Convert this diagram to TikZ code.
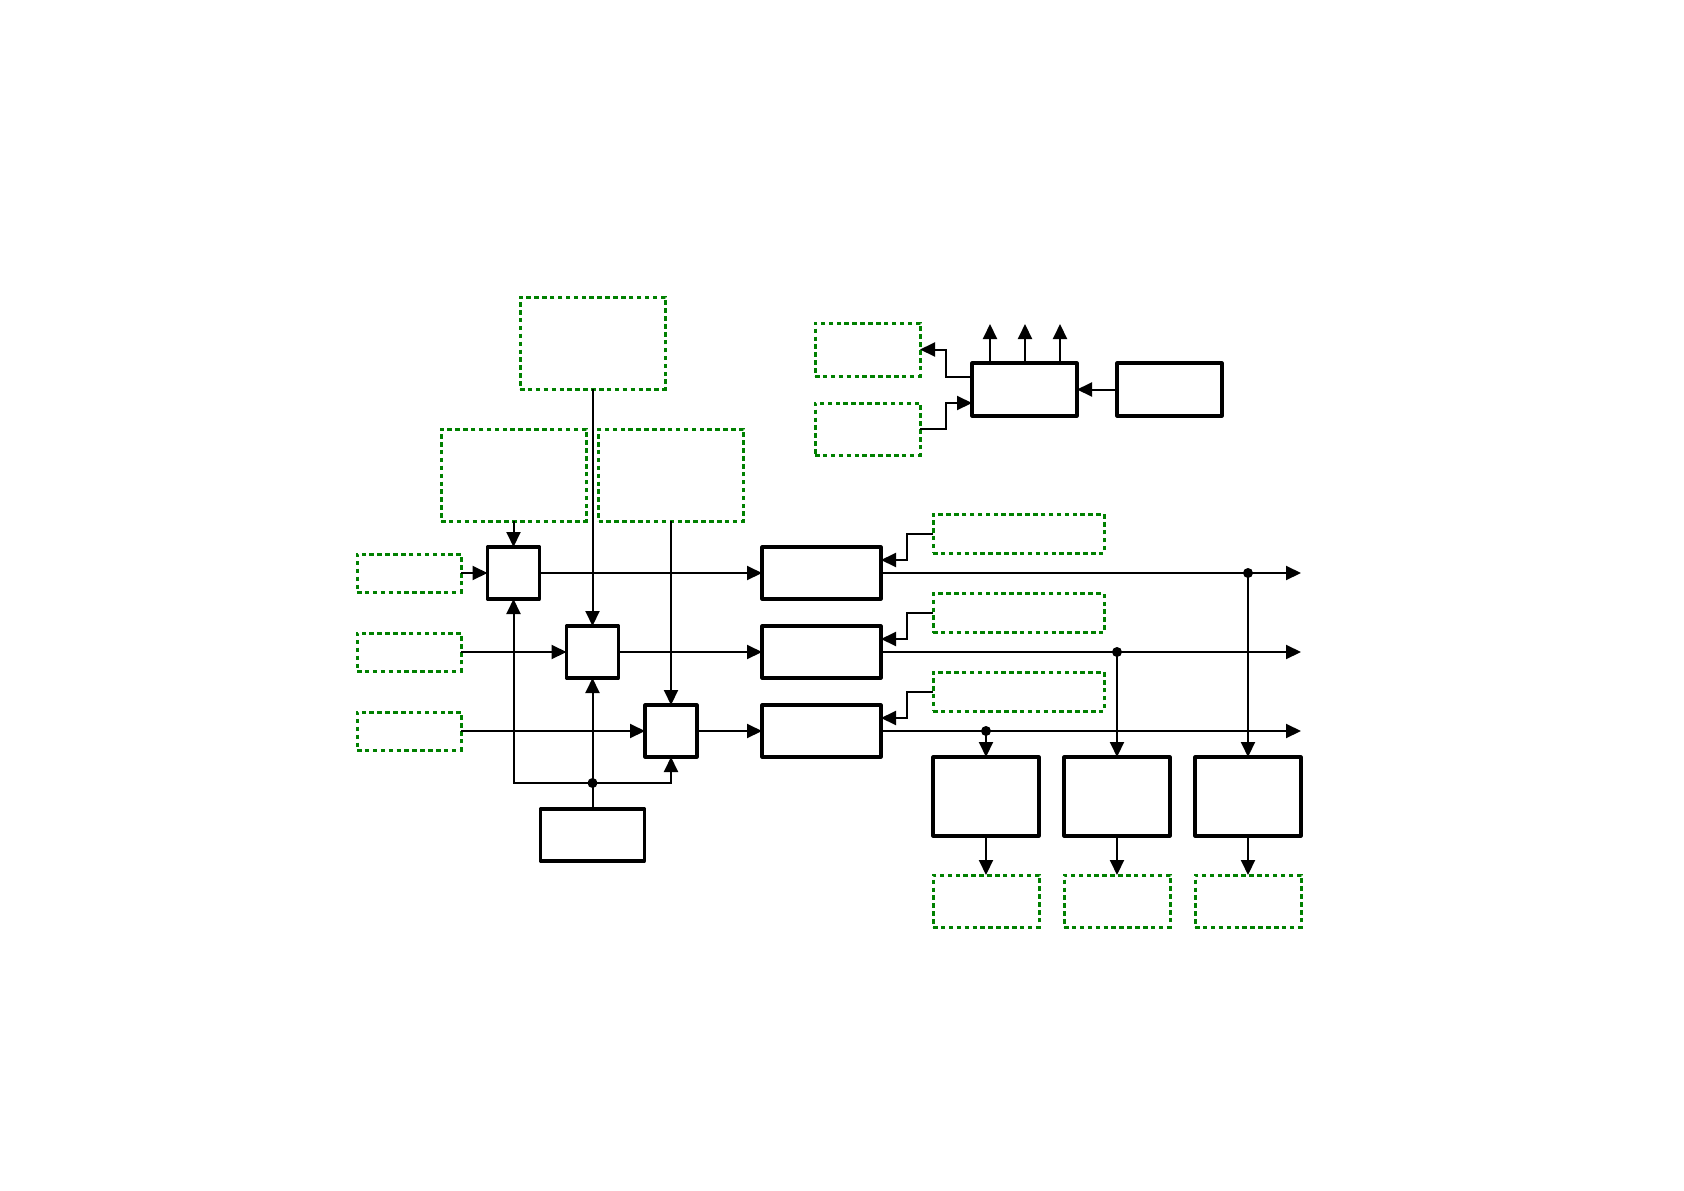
\documentclass[tikz,border=0pt]{standalone}
\usetikzlibrary{arrows.meta}
\definecolor{dgreen}{RGB}{0,128,0}
\begin{document}
\begin{tikzpicture}[x=1pt,y=-1pt,
  solidbox/.style={draw=black,line width=3.1pt,line join=round,inner sep=0pt,outer sep=0pt,fill=white},
  greenbox/.style={draw=dgreen,line width=3pt,dash pattern=on 4.5pt off 3.4pt,inner sep=0pt,outer sep=0pt},
  conn/.style={draw=black,line width=2pt},
  arr/.style={conn,-{Triangle[length=15pt,width=14pt]}},
  jdot/.style={fill=black,circle,inner sep=0pt,minimum size=10pt}
]
\path[use as bounding box,fill=white] (0,0) rectangle (1684,1191);

% green dashed boxes, left group
\node[greenbox,minimum width=145pt,minimum height=92pt] (gTop) at (592.5,343) {};
\node[greenbox,minimum width=145pt,minimum height=92pt] (gL) at (513.5,475) {};
\node[greenbox,minimum width=145pt,minimum height=92pt] (gR) at (671,475) {};
\node[greenbox,minimum width=104pt,minimum height=38pt] (gIn1) at (409,573) {};
\node[greenbox,minimum width=104pt,minimum height=38pt] (gIn2) at (409,652) {};
\node[greenbox,minimum width=104pt,minimum height=38pt] (gIn3) at (409,731) {};

% squares
\node[solidbox,minimum width=52pt,minimum height=52pt] (s1) at (513.5,573) {};
\node[solidbox,minimum width=52pt,minimum height=52pt] (s2) at (592.5,652) {};
\node[solidbox,minimum width=52pt,minimum height=52pt] (s3) at (671,731) {};
\node[solidbox,minimum width=104pt,minimum height=52pt] (bb) at (592.5,835) {};

% middle boxes
\node[solidbox,minimum width=119pt,minimum height=52pt] (m1) at (821.5,573) {};
\node[solidbox,minimum width=119pt,minimum height=52pt] (m2) at (821.5,652) {};
\node[solidbox,minimum width=119pt,minimum height=52pt] (m3) at (821.5,731) {};

% right green boxes
\node[greenbox,minimum width=171pt,minimum height=39pt] (r1) at (1018.5,533.5) {};
\node[greenbox,minimum width=171pt,minimum height=39pt] (r2) at (1018.5,613) {};
\node[greenbox,minimum width=171pt,minimum height=39pt] (r3) at (1018.5,691.5) {};

% bottom boxes
\node[solidbox,minimum width=106pt,minimum height=79pt] (o1) at (986,796.5) {};
\node[solidbox,minimum width=106pt,minimum height=79pt] (o2) at (1117,796.5) {};
\node[solidbox,minimum width=106pt,minimum height=79pt] (o3) at (1248,796.5) {};
\node[greenbox,minimum width=106pt,minimum height=52pt] (q1) at (986,901) {};
\node[greenbox,minimum width=106pt,minimum height=52pt] (q2) at (1117,901) {};
\node[greenbox,minimum width=106pt,minimum height=52pt] (q3) at (1248,901) {};

% top right group
\node[greenbox,minimum width=105pt,minimum height=53pt] (t1) at (867.5,349.5) {};
\node[greenbox,minimum width=105pt,minimum height=52pt] (t2) at (867.5,429) {};
\node[solidbox,minimum width=105pt,minimum height=53pt] (c) at (1024.5,389.5) {};
\node[solidbox,minimum width=105pt,minimum height=53pt] (rb) at (1169.5,389.5) {};

% coordinates
\coordinate (bus) at (592.5,783);
\coordinate (e1) at (1301,573);
\coordinate (e2) at (1301,652);
\coordinate (e3) at (1301,731);
\coordinate (d1) at (1248,573);
\coordinate (d2) at (1117,652);
\coordinate (d3) at (986,731);
\coordinate (u1) at (990,324);
\coordinate (u2) at (1025,324);
\coordinate (u3) at (1060,324);

% left connectors
\draw[arr] (gTop.south) -- (s2.north);
\draw[arr] (gL.south) -- (s1.north);
\draw[arr] (gR.south) -- (s3.north);
\draw[arr] (gIn1.east) -- (s1.west);
\draw[arr] (gIn2.east) -- (s2.west);
\draw[arr] (gIn3.east) -- (s3.west);
\draw[arr] (s1.east) -- (m1.west);
\draw[arr] (s2.east) -- (m2.west);
\draw[arr] (s3.east) -- (m3.west);
\draw[conn] (bb.north) -- (bus);
\draw[arr] (bus) -- (s2.south);
\draw[arr] (bus) -| (s1.south);
\draw[arr] (bus) -| (s3.south);
\node[jdot] at (bus) {};

% right green to middle boxes
\draw[arr] (r1.west) -- ++(-26,0) |- ([yshift=13pt]m1.east);
\draw[arr] (r2.west) -- ++(-26,0) |- ([yshift=13pt]m2.east);
\draw[arr] (r3.west) -- ++(-26,0) |- ([yshift=13pt]m3.east);

% outputs
\draw[arr] (m1.east) -- (e1);
\draw[arr] (m2.east) -- (e2);
\draw[arr] (m3.east) -- (e3);
\draw[arr] (d1) -- (o3.north);
\draw[arr] (d2) -- (o2.north);
\draw[arr] (d3) -- (o1.north);
\node[jdot] at (d1) {};
\node[jdot] at (d2) {};
\node[jdot] at (d3) {};
\draw[arr] (o1.south) -- (q1.north);
\draw[arr] (o2.south) -- (q2.north);
\draw[arr] (o3.south) -- (q3.north);

% top right connectors
\draw[arr] ([yshift=12.5pt]c.west) -- ++(-26,0) |- (t1.east);
\draw[arr] (t2.east) -- ++(26,0) |- ([yshift=-13.5pt]c.west);
\draw[arr] (rb.west) -- (c.east);
\draw[arr] (c.north -| u1) -- (u1);
\draw[arr] (c.north -| u2) -- (u2);
\draw[arr] (c.north -| u3) -- (u3);
\end{tikzpicture}
\end{document}
